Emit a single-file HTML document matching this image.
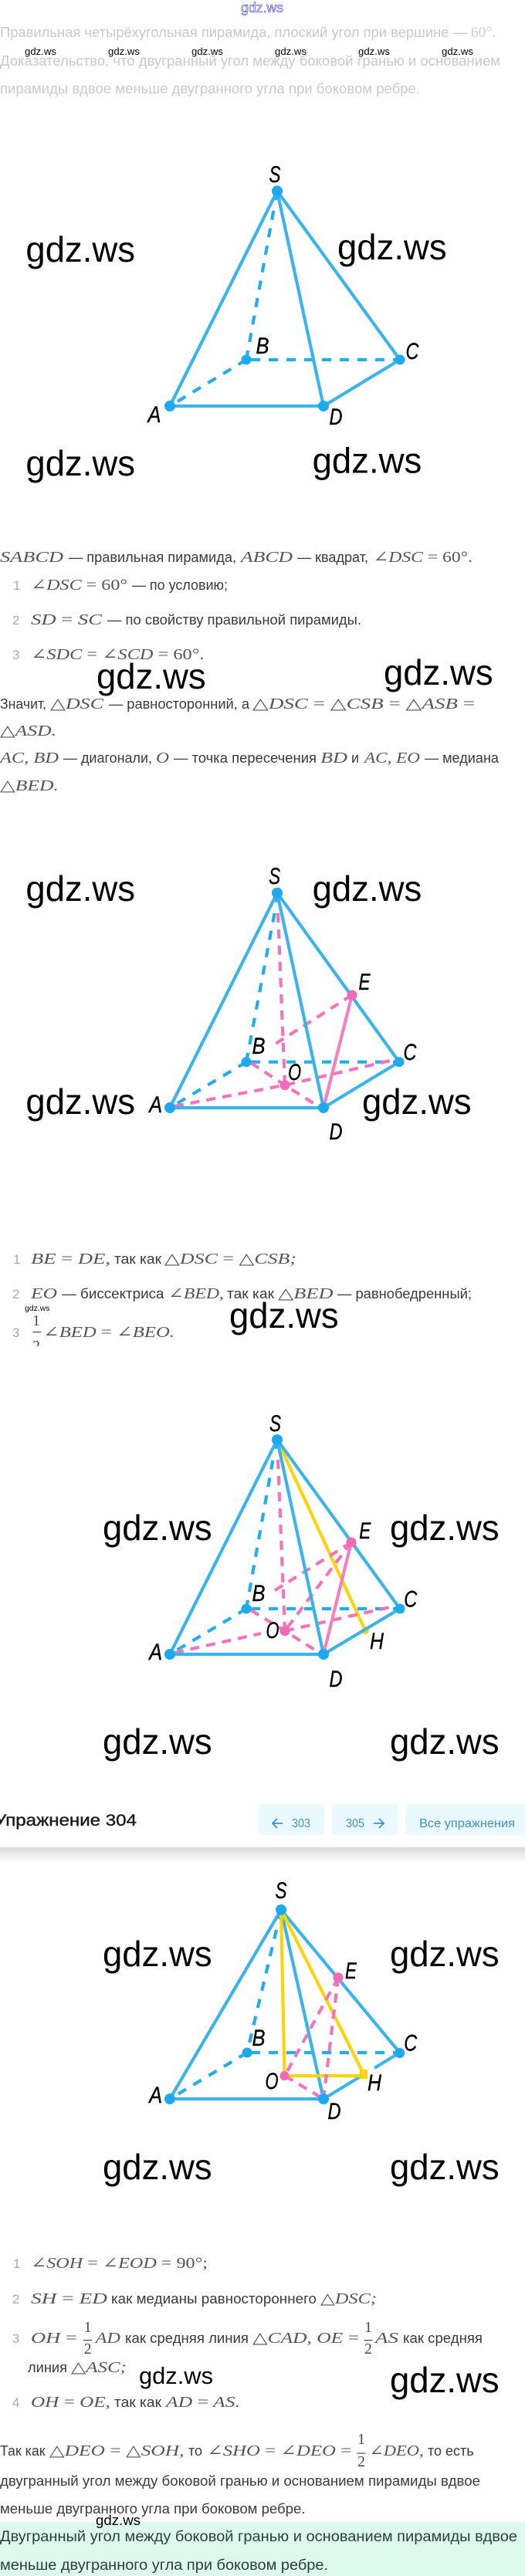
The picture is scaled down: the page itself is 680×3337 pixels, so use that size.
<!DOCTYPE html>
<html><head><meta charset="utf-8"><style>
html,body{margin:0;padding:0;background:#fff}
svg{display:block}
.w{font-family:"Liberation Sans",sans-serif;fill:#000}
.t{font:18px "Liberation Sans",sans-serif;fill:#3a3a3a}
.g{font:18px "Liberation Sans",sans-serif;fill:#c9c9c9}
.m{font:italic 20px "Liberation Serif","DejaVu Serif",serif;fill:#555}
.mg{font:20px "Liberation Serif","DejaVu Serif",serif;fill:#cfcfcf}
.u{font-style:normal}
.f{font:20px "Liberation Serif",serif;fill:#4a4a4a;text-anchor:middle}
.n{font:17px "Liberation Sans",sans-serif;fill:#aaa}
.l{font:italic 30px "Liberation Sans",sans-serif;fill:#000;text-anchor:middle;stroke:#000;stroke-width:.4}
.s{stroke:#3db4e8;stroke-width:4.2;fill:none}
.d{stroke:#25ade9;stroke-width:4.2;fill:none;stroke-dasharray:12 11}
.p{stroke:#f075bb;stroke-width:4.2;fill:none;stroke-dasharray:12 9}
.ps{stroke:#f57fc0;stroke-width:4.2;fill:none}
.y{stroke:#fbd40b;stroke-width:4.2;fill:none}
.b{fill:#1ea9ee}.pk{fill:#f06bb5}.ye{fill:#fbd40b}
.nt{font:16px "Liberation Sans",sans-serif;fill:#4092bd}
.gr{font:19px "Liberation Sans",sans-serif;fill:#2b4038}
</style></head><body>
<svg xmlns="http://www.w3.org/2000/svg" width="680" height="3337" viewBox="0 0 680 3337">
<defs><linearGradient id="sh" x1="0" y1="0" x2="0" y2="1"><stop offset="0" stop-color="#d8d8d8"/><stop offset="1" stop-color="#fff"/></linearGradient></defs>
<rect width="680" height="3337" fill="#fff"/>

<!-- header -->
<text x="312" y="16" font-family="Liberation Sans" font-size="18" fill="none" stroke="#3a3ad0" stroke-width=".6" textLength="55" lengthAdjust="spacingAndGlyphs">gdz.ws</text>
<text class="g" x="0" y="48" textLength="605" lengthAdjust="spacingAndGlyphs">Правильная четырёхугольная пирамида, плоский угол при вершине —</text>
<text class="mg" x="610" y="48" textLength="32" lengthAdjust="spacingAndGlyphs">60°.</text>
<text class="g" x="0" y="85" textLength="648" lengthAdjust="spacingAndGlyphs">Доказательство, что двугранный угол между боковой гранью и основанием</text>
<text class="g" x="0" y="121" textLength="544" lengthAdjust="spacingAndGlyphs">пирамиды вдвое меньше двугранного угла при боковом ребре.</text>
<g class="w" font-size="13">
<text x="32" y="71" textLength="41" lengthAdjust="spacingAndGlyphs">gdz.ws</text>
<text x="140" y="71" textLength="41" lengthAdjust="spacingAndGlyphs">gdz.ws</text>
<text x="248" y="71" textLength="41" lengthAdjust="spacingAndGlyphs">gdz.ws</text>
<text x="356" y="71" textLength="41" lengthAdjust="spacingAndGlyphs">gdz.ws</text>
<text x="464" y="71" textLength="41" lengthAdjust="spacingAndGlyphs">gdz.ws</text>
<text x="572" y="71" textLength="41" lengthAdjust="spacingAndGlyphs">gdz.ws</text>
</g>

<!-- diagram 1 -->
<g>
<path class="d" d="M359 247.5L356 262M354.3 273L319 466"/>
<path class="d" d="M325 466H518"/>
<path class="d" d="M319 466L220 526"/>
<path class="s" d="M359 247.5L220 526H419L518 466L359 247.5M359 247.5L419 526"/>
<circle class="b" cx="359" cy="247.5" r="7"/><circle class="b" cx="220" cy="526" r="7"/><circle class="b" cx="419" cy="526" r="7"/><circle class="b" cx="518" cy="466" r="6.5"/><circle class="b" cx="319" cy="466" r="6.5"/>
<text class="l" x="356" y="236" textLength="15" lengthAdjust="spacingAndGlyphs">S</text>
<text class="l" x="340" y="458" textLength="17" lengthAdjust="spacingAndGlyphs">B</text>
<text class="l" x="534" y="465" textLength="17" lengthAdjust="spacingAndGlyphs">C</text>
<text class="l" x="200" y="547" textLength="17" lengthAdjust="spacingAndGlyphs">A</text>
<text class="l" x="435" y="550" textLength="17" lengthAdjust="spacingAndGlyphs">D</text>
</g>
<g class="w" font-size="46">
<text x="33.4" y="339" textLength="141.6" lengthAdjust="spacingAndGlyphs">gdz.ws</text>
<text x="437" y="336" textLength="141.6" lengthAdjust="spacingAndGlyphs">gdz.ws</text>
<text x="33.4" y="616" textLength="141.6" lengthAdjust="spacingAndGlyphs">gdz.ws</text>
<text x="404.6" y="612.5" textLength="141.6" lengthAdjust="spacingAndGlyphs">gdz.ws</text>
</g>

<!-- text block 1 -->
<text class="m" x="0" y="728" textLength="82" lengthAdjust="spacingAndGlyphs">SABCD</text>
<text class="t" x="89" y="728" textLength="217" lengthAdjust="spacingAndGlyphs">— правильная пирамида,</text>
<text class="m" x="312" y="728" textLength="67" lengthAdjust="spacingAndGlyphs">ABCD</text>
<text class="t" x="385" y="728" textLength="92" lengthAdjust="spacingAndGlyphs">— квадрат,</text>
<text class="m" x="483.5" y="728" textLength="128.5" lengthAdjust="spacingAndGlyphs"><tspan class="u">∠</tspan>DSC <tspan class="u">= 60°.</tspan></text>

<text class="n" x="17" y="764">1</text>
<text class="m" x="40" y="764" textLength="125" lengthAdjust="spacingAndGlyphs"><tspan class="u">∠</tspan>DSC <tspan class="u">= 60°</tspan></text>
<text class="t" x="171" y="764" textLength="124" lengthAdjust="spacingAndGlyphs">— по условию;</text>
<text class="n" x="16" y="809">2</text>
<text class="m" x="40" y="809" textLength="92" lengthAdjust="spacingAndGlyphs">SD <tspan class="u">=</tspan> SC</text>
<text class="t" x="139" y="809" textLength="329" lengthAdjust="spacingAndGlyphs">— по свойству правильной пирамиды.</text>
<text class="n" x="16" y="854">3</text>
<text class="m" x="40" y="854" textLength="224.5" lengthAdjust="spacingAndGlyphs"><tspan class="u">∠</tspan>SDC <tspan class="u">= ∠</tspan>SCD <tspan class="u">= 60°.</tspan></text>

<text class="t" x="0" y="918" textLength="60" lengthAdjust="spacingAndGlyphs">Значит,</text>
<text class="m" x="65" y="918" textLength="69" lengthAdjust="spacingAndGlyphs"><tspan class="u">△</tspan>DSC</text>
<text class="t" x="141" y="918" textLength="182" lengthAdjust="spacingAndGlyphs">— равносторонний, а</text>
<text class="m" x="327" y="918" textLength="288" lengthAdjust="spacingAndGlyphs"><tspan class="u">△</tspan>DSC <tspan class="u">= △</tspan>CSB <tspan class="u">= △</tspan>ASB <tspan class="u">=</tspan></text>
<text class="m" x="0" y="953" textLength="73" lengthAdjust="spacingAndGlyphs"><tspan class="u">△</tspan>ASD.</text>
<text class="m" x="0" y="988" textLength="76" lengthAdjust="spacingAndGlyphs">AC, BD</text>
<text class="t" x="82" y="988" textLength="115" lengthAdjust="spacingAndGlyphs">— диагонали,</text>
<text class="m" x="202" y="988" textLength="17" lengthAdjust="spacingAndGlyphs">O</text>
<text class="t" x="225" y="988" textLength="185" lengthAdjust="spacingAndGlyphs">— точка пересечения</text>
<text class="m" x="415" y="988" textLength="35" lengthAdjust="spacingAndGlyphs">BD</text>
<text class="t" x="455" y="988" textLength="10" lengthAdjust="spacingAndGlyphs">и</text>
<text class="m" x="472" y="988" textLength="72" lengthAdjust="spacingAndGlyphs">AC, EO</text>
<text class="t" x="550" y="988" textLength="96" lengthAdjust="spacingAndGlyphs">— медиана</text>
<text class="m" x="0" y="1024" textLength="76" lengthAdjust="spacingAndGlyphs"><tspan class="u">△</tspan>BED.</text>
<g class="w" font-size="46">
<text x="125" y="892" textLength="141.6" lengthAdjust="spacingAndGlyphs">gdz.ws</text>
<text x="497" y="887" textLength="141.6" lengthAdjust="spacingAndGlyphs">gdz.ws</text>
</g>

<!-- diagram 2 -->
<g>
<path class="d" d="M359 1156.7L356.5 1172M355.6 1183L319 1375.7"/>
<path class="d" d="M325 1375.7H517"/>
<path class="d" d="M319 1375.7L220 1435"/>
<path class="p" d="M360 1183L369 1405.7"/>
<path class="p" d="M456 1289L355.6 1353"/>
<path class="p" d="M325 1377L369 1405.7L412 1433"/>
<path class="p" d="M226 1433L369 1405.7L514 1372"/>
<path class="s" d="M359 1156.7L220 1435H419L517 1375.7L359 1156.7M359 1156.7L419 1435"/>
<path class="ps" d="M456 1289L419 1435"/>
<circle class="b" cx="359" cy="1156.7" r="7"/><circle class="b" cx="220" cy="1435" r="7"/><circle class="b" cx="419" cy="1435" r="7"/><circle class="b" cx="517" cy="1375.7" r="6.5"/><circle class="b" cx="319" cy="1375.7" r="6.5"/>
<circle class="pk" cx="456" cy="1289" r="6.5"/><circle class="pk" cx="369" cy="1405.7" r="6.5"/>
<text class="l" x="355.6" y="1145" textLength="15" lengthAdjust="spacingAndGlyphs">S</text>
<text class="l" x="335" y="1365" textLength="17" lengthAdjust="spacingAndGlyphs">B</text>
<text class="l" x="531" y="1373" textLength="17" lengthAdjust="spacingAndGlyphs">C</text>
<text class="l" x="201.6" y="1441" textLength="17" lengthAdjust="spacingAndGlyphs">A</text>
<text class="l" x="435" y="1476" textLength="17" lengthAdjust="spacingAndGlyphs">D</text>
<text class="l" x="472" y="1282" textLength="15" lengthAdjust="spacingAndGlyphs">E</text>
<text class="l" x="381.6" y="1399" textLength="17" lengthAdjust="spacingAndGlyphs">O</text>
</g>
<g class="w" font-size="46">
<text x="33.4" y="1167" textLength="141.6" lengthAdjust="spacingAndGlyphs">gdz.ws</text>
<text x="404.6" y="1167" textLength="141.6" lengthAdjust="spacingAndGlyphs">gdz.ws</text>
<text x="33.4" y="1443" textLength="141.6" lengthAdjust="spacingAndGlyphs">gdz.ws</text>
<text x="469" y="1443" textLength="141.6" lengthAdjust="spacingAndGlyphs">gdz.ws</text>
</g>

<!-- text block 2 -->
<text class="n" x="17" y="1637">1</text>
<text class="m" x="40" y="1637" textLength="103" lengthAdjust="spacingAndGlyphs">BE <tspan class="u">=</tspan> DE,</text>
<text class="t" x="148" y="1637" textLength="61" lengthAdjust="spacingAndGlyphs">так как</text>
<text class="m" x="213" y="1637" textLength="171" lengthAdjust="spacingAndGlyphs"><tspan class="u">△</tspan>DSC <tspan class="u">= △</tspan>CSB;</text>
<text class="n" x="16" y="1682">2</text>
<text class="m" x="40" y="1682" textLength="34" lengthAdjust="spacingAndGlyphs">EO</text>
<text class="t" x="80" y="1682" textLength="132.5" lengthAdjust="spacingAndGlyphs">— биссектриса</text>
<text class="m" x="218" y="1682" textLength="72" lengthAdjust="spacingAndGlyphs"><tspan class="u">∠</tspan>BED,</text>
<text class="t" x="294" y="1682" textLength="61" lengthAdjust="spacingAndGlyphs">так как</text>
<text class="m" x="360" y="1682" textLength="71.5" lengthAdjust="spacingAndGlyphs"><tspan class="u">△</tspan>BED</text>
<text class="t" x="437" y="1682" textLength="174" lengthAdjust="spacingAndGlyphs">— равнобедренный;</text>
<text class="n" x="16" y="1732">3</text>
<text class="f" x="47" y="1717">1</text>
<rect x="42.5" y="1725" width="10.5" height="1.2" fill="#4a4a4a"/>
<text class="f" x="47" y="1750">2</text>
<rect x="36" y="1744" width="30" height="12" fill="#fff"/>
<text class="m" x="56" y="1732" textLength="170" lengthAdjust="spacingAndGlyphs"><tspan class="u">∠</tspan>BED <tspan class="u">= ∠</tspan>BEO.</text>
<text class="w" x="32" y="1698" font-size="10.5" textLength="32.5" lengthAdjust="spacingAndGlyphs">gdz.ws</text>
<text class="w" x="297" y="1720" font-size="46" textLength="141.6" lengthAdjust="spacingAndGlyphs">gdz.ws</text>

<!-- diagram 3 -->
<g>
<path class="d" d="M359 1865L356 1880M353.4 1891.7L319 2084"/>
<path class="d" d="M325 2084H518"/>
<path class="d" d="M319 2084L220 2143"/>
<path class="y" d="M359 1865L473 2112"/>
<circle class="ye" cx="473" cy="2112" r="5"/>
<path class="p" d="M360 1891L369 2112.7"/>
<path class="p" d="M455 1998L353 2062"/>
<path class="p" d="M455 1998L369 2112.7"/>
<path class="p" d="M325 2086L369 2112.7L412 2140"/>
<path class="p" d="M226 2141L338 2116M369 2112.7L514 2080"/>
<path class="s" d="M359 1865L220 2143H419L518 2084L359 1865M359 1865L419 2143"/>
<path class="ps" d="M455 1998L419 2143"/>
<circle class="b" cx="359" cy="1865" r="7"/><circle class="b" cx="220" cy="2143" r="7"/><circle class="b" cx="419" cy="2143" r="7"/><circle class="b" cx="518" cy="2084" r="6.5"/><circle class="b" cx="319" cy="2084" r="6.5"/>
<circle class="pk" cx="455" cy="1998" r="6.5"/><circle class="pk" cx="369" cy="2112.7" r="6.5"/>
<text class="l" x="356.5" y="1854" textLength="15" lengthAdjust="spacingAndGlyphs">S</text>
<text class="l" x="472.7" y="1993" textLength="15" lengthAdjust="spacingAndGlyphs">E</text>
<text class="l" x="335" y="2074" textLength="17" lengthAdjust="spacingAndGlyphs">B</text>
<text class="l" x="531.7" y="2081.7" textLength="17" lengthAdjust="spacingAndGlyphs">C</text>
<text class="l" x="353" y="2122" textLength="17" lengthAdjust="spacingAndGlyphs">O</text>
<text class="l" x="488" y="2136" textLength="18" lengthAdjust="spacingAndGlyphs">H</text>
<text class="l" x="201.6" y="2150" textLength="17" lengthAdjust="spacingAndGlyphs">A</text>
<text class="l" x="435" y="2185" textLength="17" lengthAdjust="spacingAndGlyphs">D</text>
</g>
<g class="w" font-size="46">
<text x="133" y="1995" textLength="141.6" lengthAdjust="spacingAndGlyphs">gdz.ws</text>
<text x="505" y="1995" textLength="141.6" lengthAdjust="spacingAndGlyphs">gdz.ws</text>
<text x="133" y="2272" textLength="141.6" lengthAdjust="spacingAndGlyphs">gdz.ws</text>
<text x="505" y="2272" textLength="141.6" lengthAdjust="spacingAndGlyphs">gdz.ws</text>
</g>

<!-- nav -->
<rect x="0" y="2393" width="680" height="20" fill="url(#sh)"/>
<text x="-7" y="2365" font-family="Liberation Sans" font-size="21" fill="#1a1a1a" stroke="#1a1a1a" stroke-width=".4" textLength="184" lengthAdjust="spacingAndGlyphs">Упражнение 304</text>
<rect x="335" y="2337" width="85" height="40" rx="4" fill="#e9f9fd"/>
<rect x="430" y="2337" width="85" height="40" rx="4" fill="#e9f9fd"/>
<rect x="525" y="2337" width="160" height="40" rx="4" fill="#e9f9fd"/>
<path d="M366 2362H353M359 2356L353 2362L359 2368" fill="none" stroke="#3d95c2" stroke-width="1.8"/>
<path d="M484 2362H497M491 2356L497 2362L491 2368" fill="none" stroke="#3d95c2" stroke-width="1.8"/>
<text class="nt" x="378" y="2367" textLength="24" lengthAdjust="spacingAndGlyphs">303</text>
<text class="nt" x="448" y="2367" textLength="24" lengthAdjust="spacingAndGlyphs">305</text>
<text class="nt" x="543" y="2367" textLength="124" lengthAdjust="spacingAndGlyphs">Все упражнения</text>

<!-- diagram 4 -->
<g>
<path class="d" d="M364 2474L361 2488M358 2500L320 2659"/>
<path class="d" d="M325 2659H517.7"/>
<path class="d" d="M320 2659L220 2719"/>
<path class="s" d="M466.7 2690L419 2719H220L364 2474L517.7 2659L485 2679M364 2474L419 2719"/>
<path class="y" d="M364 2474L368.5 2689"/>
<path class="y" d="M364 2474L471 2686.7"/>
<path class="y" d="M368.5 2689H471" stroke-width="5"/>
<path class="p" d="M438 2561.7L369 2689"/>
<path class="p" d="M438 2561.7L419 2719"/>
<path class="p" d="M369 2689L419 2719"/>
<circle class="b" cx="364" cy="2474" r="7"/><circle class="b" cx="220" cy="2719" r="7"/><circle class="b" cx="419" cy="2719" r="7"/><circle class="b" cx="517.7" cy="2659.5" r="6.5"/><circle class="b" cx="320" cy="2659" r="6.5"/>
<circle class="pk" cx="438" cy="2561.7" r="6.5"/><circle class="pk" cx="368.5" cy="2689" r="6"/><rect class="ye" x="466" y="2681" width="10" height="12"/>
<text class="l" x="364" y="2459" textLength="15" lengthAdjust="spacingAndGlyphs">S</text>
<text class="l" x="454.5" y="2563" textLength="15" lengthAdjust="spacingAndGlyphs">E</text>
<text class="l" x="335" y="2650" textLength="17" lengthAdjust="spacingAndGlyphs">B</text>
<text class="l" x="531.7" y="2656.7" textLength="17" lengthAdjust="spacingAndGlyphs">C</text>
<text class="l" x="352" y="2706" textLength="17" lengthAdjust="spacingAndGlyphs">O</text>
<text class="l" x="485" y="2708" textLength="18" lengthAdjust="spacingAndGlyphs">H</text>
<text class="l" x="201.6" y="2724" textLength="17" lengthAdjust="spacingAndGlyphs">A</text>
<text class="l" x="433" y="2745" textLength="17" lengthAdjust="spacingAndGlyphs">D</text>
</g>
<g class="w" font-size="46">
<text x="133" y="2547" textLength="141.6" lengthAdjust="spacingAndGlyphs">gdz.ws</text>
<text x="505" y="2547" textLength="141.6" lengthAdjust="spacingAndGlyphs">gdz.ws</text>
<text x="133" y="2823" textLength="141.6" lengthAdjust="spacingAndGlyphs">gdz.ws</text>
<text x="505" y="2823" textLength="141.6" lengthAdjust="spacingAndGlyphs">gdz.ws</text>
<text x="505" y="3099" textLength="141.6" lengthAdjust="spacingAndGlyphs">gdz.ws</text>
</g>

<!-- text block 3 -->
<text class="n" x="17" y="2938">1</text>
<text class="m" x="40" y="2938" textLength="229" lengthAdjust="spacingAndGlyphs"><tspan class="u">∠</tspan>SOH <tspan class="u">= ∠</tspan>EOD <tspan class="u">= 90°;</tspan></text>
<text class="n" x="16" y="2984">2</text>
<text class="m" x="40" y="2984" textLength="99" lengthAdjust="spacingAndGlyphs">SH <tspan class="u">=</tspan> ED</text>
<text class="t" x="144" y="2984" textLength="266" lengthAdjust="spacingAndGlyphs">как медианы равностороннего</text>
<text class="m" x="415" y="2984" textLength="73" lengthAdjust="spacingAndGlyphs"><tspan class="u">△</tspan>DSC;</text>
<text class="n" x="16" y="3035">3</text>
<text class="m" x="40" y="3035" textLength="60" lengthAdjust="spacingAndGlyphs">OH <tspan class="u">=</tspan></text>
<text class="f" x="113.6" y="3021">1</text><rect x="108" y="3031" width="11" height="1.2" fill="#4a4a4a"/><text class="f" x="113.6" y="3049">2</text>
<text class="m" x="123.6" y="3035" textLength="32.4" lengthAdjust="spacingAndGlyphs">AD</text>
<text class="t" x="162" y="3035" textLength="160" lengthAdjust="spacingAndGlyphs">как средняя линия</text>
<text class="m" x="327" y="3035" textLength="138" lengthAdjust="spacingAndGlyphs"><tspan class="u">△</tspan>CAD, OE <tspan class="u">=</tspan></text>
<text class="f" x="477" y="3021">1</text><rect x="471.5" y="3031" width="11" height="1.2" fill="#4a4a4a"/><text class="f" x="477" y="3049">2</text>
<text class="m" x="486" y="3035" textLength="30" lengthAdjust="spacingAndGlyphs">AS</text>
<text class="t" x="522" y="3035" textLength="103" lengthAdjust="spacingAndGlyphs">как средняя</text>
<text class="t" x="36" y="3073" textLength="51" lengthAdjust="spacingAndGlyphs">линия</text>
<text class="m" x="92" y="3073" textLength="72" lengthAdjust="spacingAndGlyphs"><tspan class="u">△</tspan>ASC;</text>
<text class="n" x="16" y="3118">4</text>
<text class="m" x="40" y="3118" textLength="103" lengthAdjust="spacingAndGlyphs">OH <tspan class="u">=</tspan> OE,</text>
<text class="t" x="148" y="3118" textLength="61" lengthAdjust="spacingAndGlyphs">так как</text>
<text class="m" x="215" y="3118" textLength="96" lengthAdjust="spacingAndGlyphs">AD <tspan class="u">=</tspan> AS.</text>
<text class="w" x="180" y="3088" font-size="31" textLength="96" lengthAdjust="spacingAndGlyphs">gdz.ws</text>

<text class="t" x="0" y="3181" textLength="58.5" lengthAdjust="spacingAndGlyphs">Так как</text>
<text class="m" x="64" y="3181" textLength="174.5" lengthAdjust="spacingAndGlyphs"><tspan class="u">△</tspan>DEO <tspan class="u">= △</tspan>SOH,</text>
<text class="t" x="244" y="3181" textLength="18" lengthAdjust="spacingAndGlyphs">то</text>
<text class="m" x="268" y="3181" textLength="187" lengthAdjust="spacingAndGlyphs"><tspan class="u">∠</tspan>SHO <tspan class="u">= ∠</tspan>DEO <tspan class="u">=</tspan></text>
<text class="f" x="468" y="3166">1</text><rect x="462.5" y="3177.5" width="11" height="1.2" fill="#4a4a4a"/><text class="f" x="468" y="3195">2</text>
<text class="m" x="478" y="3181" textLength="70.6" lengthAdjust="spacingAndGlyphs"><tspan class="u">∠</tspan>DEO,</text>
<text class="t" x="554" y="3181" textLength="59.6" lengthAdjust="spacingAndGlyphs">то есть</text>
<text class="t" x="0" y="3220" textLength="622" lengthAdjust="spacingAndGlyphs">двугранный угол между боковой гранью и основанием пирамиды вдвое</text>
<text class="t" x="0" y="3256" textLength="395.5" lengthAdjust="spacingAndGlyphs">меньше двугранного угла при боковом ребре.</text>

<!-- answer -->
<rect x="0" y="3267" width="680" height="70" fill="#dcfbec"/>
<text class="gr" x="0" y="3292" textLength="670" lengthAdjust="spacingAndGlyphs">Двугранный угол между боковой гранью и основанием пирамиды вдвое</text>
<text class="gr" x="0" y="3329" textLength="425" lengthAdjust="spacingAndGlyphs">меньше двугранного угла при боковом ребре.</text>
<text class="w" x="124" y="3271" font-size="18.7" textLength="58" lengthAdjust="spacingAndGlyphs">gdz.ws</text>
</svg>
</body></html>
